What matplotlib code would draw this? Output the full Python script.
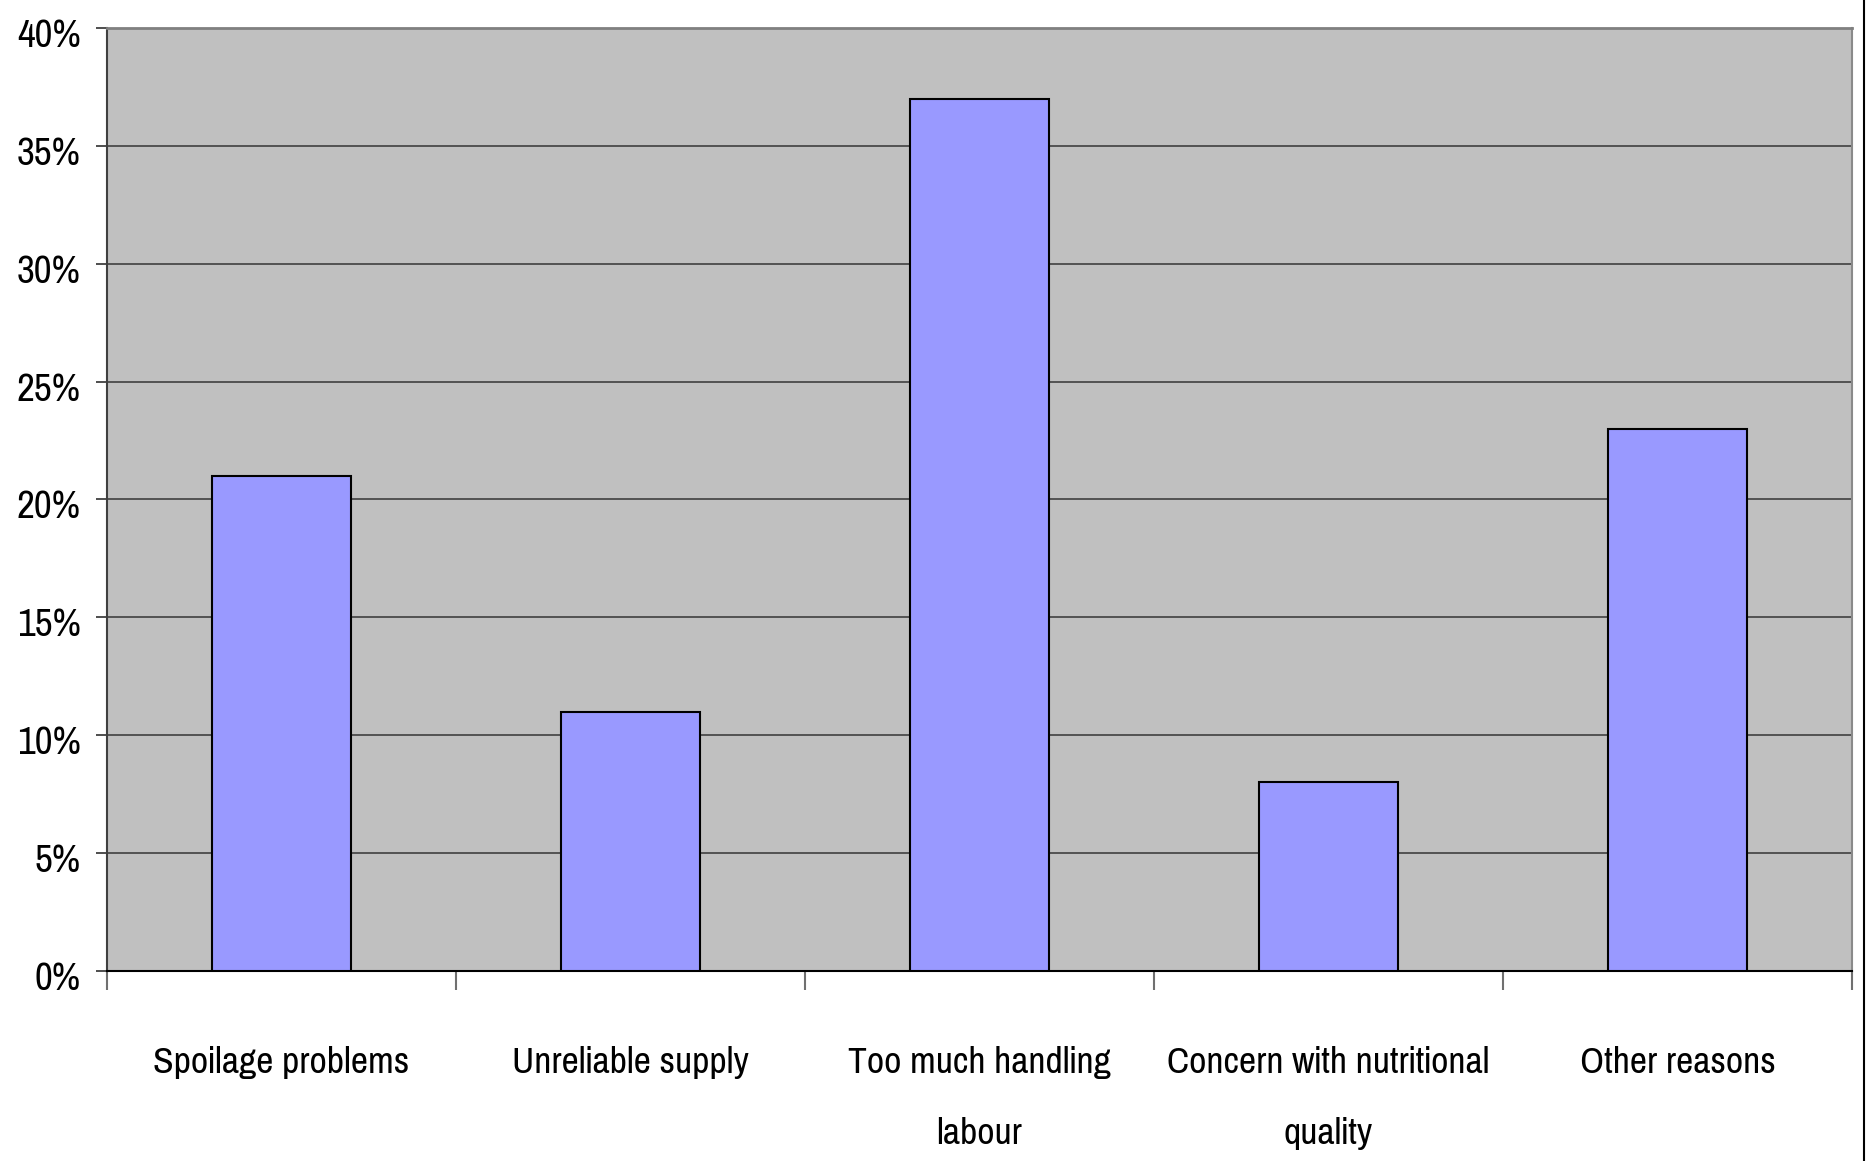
import matplotlib
matplotlib.use("Agg")
import matplotlib.pyplot as plt
from matplotlib.lines import Line2D
from matplotlib.ticker import FuncFormatter, FixedLocator
from matplotlib.transforms import ScaledTranslation

categories = ["Spoilage problems", "Unreliable supply", "Too much handling\nlabour",
              "Concern with nutritional\nquality", "Other reasons"]
values = [21, 11, 37, 8, 23]
yticks = [0, 5, 10, 15, 20, 25, 30, 35, 40]

plt.rcParams['font.family'] = ['Pragati Narrow', 'Liberation Sans', 'DejaVu Sans']

fig = plt.figure(figsize=(18.67, 11.61), dpi=100)
ax = fig.add_axes([107/1867, 1-971/1161, (1852-107)/1867, (971-28)/1161])
ax.set_facecolor('#C0C0C0')

x = list(range(len(categories)))
ax.bar(x, values, width=0.40, color='#9999FF', edgecolor='black', linewidth=1.5, zorder=3)

ax.set_xlim(-0.5, len(categories) - 0.5)
ax.set_ylim(0, 40)
ax.set_yticks(yticks)
ax.yaxis.set_major_formatter(FuncFormatter(lambda v, p: f"{int(v)}%"))
ax.yaxis.grid(True, color='#4a4a4a', linewidth=1.3, zorder=1)
ax.set_axisbelow(True)

# category labels at centers, ticks at boundaries
ax.set_xticks(x)
ax.set_xticklabels(categories, fontsize=29.5, linespacing=2.4)
ax.tick_params(axis='x', which='major', length=0, pad=54)
ax.xaxis.set_minor_locator(FixedLocator([i - 0.5 for i in range(len(categories) + 1)]))
ax.tick_params(axis='x', which='minor', length=14, width=1.5, color='#707070')
ax.tick_params(axis='y', length=8, width=1.3, color='#404040', labelsize=30.5, pad=11)

offset = ScaledTranslation(0, -5/100, fig.dpi_scale_trans)
for tick in ax.yaxis.get_major_ticks():
    tick.label1.set_verticalalignment('center_baseline')
    tick.label1.set_transform(tick.label1.get_transform() + offset)

ax.spines['left'].set_color('#404040')
ax.spines['left'].set_linewidth(1.5)
ax.spines['top'].set_color('#808080')
ax.spines['top'].set_linewidth(2)
ax.spines['right'].set_color('#8a8a8a')
ax.spines['right'].set_linewidth(1.5)
ax.spines['bottom'].set_color('black')
ax.spines['bottom'].set_linewidth(1.5)

fig.add_artist(Line2D([1863.5/1867, 1863.5/1867], [0, 1], transform=fig.transFigure,
                      color='black', linewidth=1.5))

fig.savefig("out.png", dpi=100)
